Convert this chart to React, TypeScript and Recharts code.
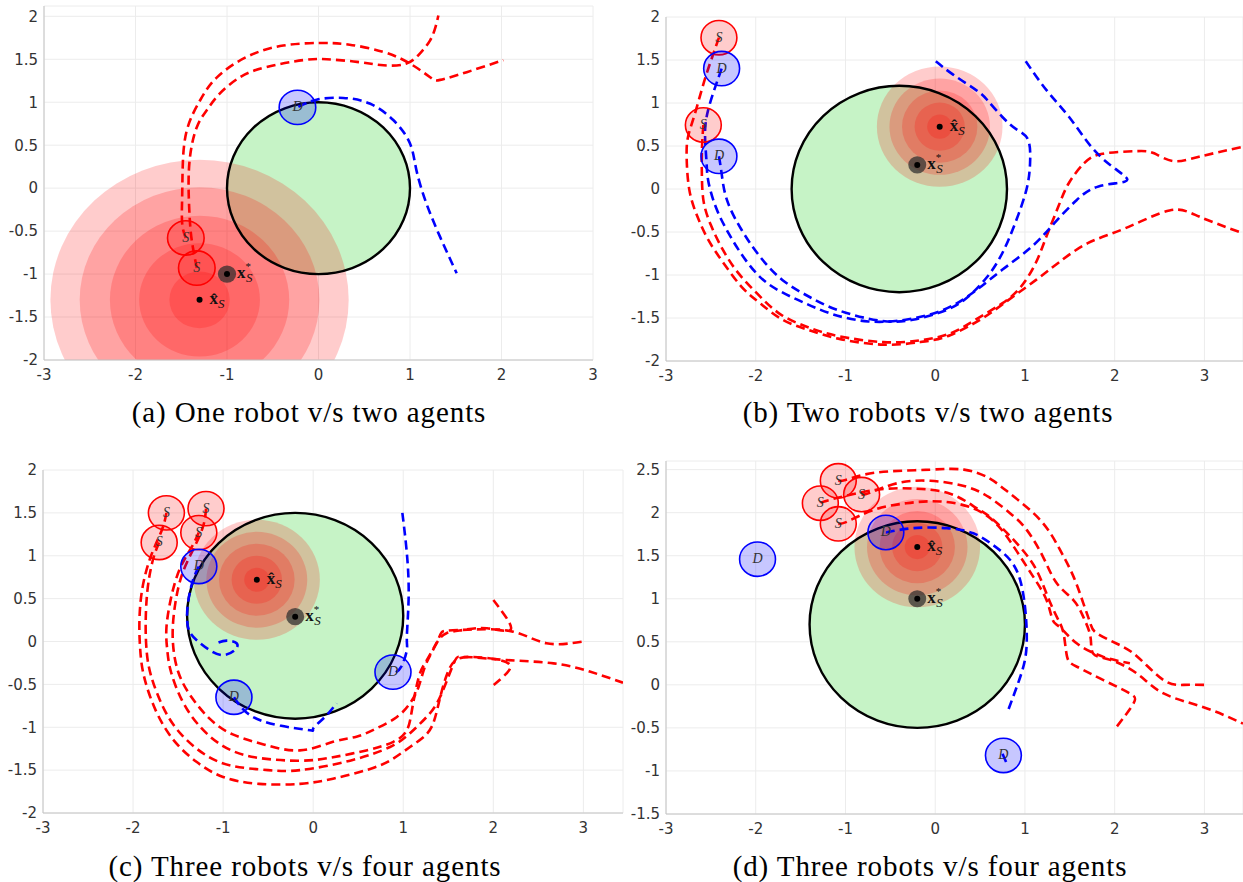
import React from 'react'
import { ComposedChart, Line, Scatter, XAxis, YAxis, CartesianGrid } from 'recharts'

type Pt = { x: number; y: number }
const pts = (a: number[][]): Pt[] => a.map(([x, y]) => ({ x, y }))

const X_TICKS = [-3, -2, -1, 0, 1, 2, 3]
const Y_TICKS = [-2, -1.5, -1, -0.5, 0, 0.5, 1, 1.5, 2]
const Y_TICKS_D = [-1.5, -1, -0.5, 0, 0.5, 1, 1.5, 2, 2.5]

// (a) one robot v/s two agents
const A_OBSTACLE = { x: 0, y: 0, r: 1 }
const A_RING = { x: -1.3, y: -1.3 }
const A_RING_RADII = [1.63, 1.31, 0.98, 0.66, 0.33]
const A_XSTAR = { x: -1.0, y: -1.0 }
const A_XHAT = { x: -1.3, y: -1.3 }
const A_ROBOTS = [[-1.45, -0.58], [-1.33, -0.93]]
const A_AGENTS = [[-0.23, 0.94]]
const A_RED = [
  [[-1.45, -0.58], [-1.49, -0.41], [-1.49, -0.1], [-1.484, 0.25], [-1.44, 0.67], [-1.295, 1.02], [-1.11, 1.29], [-0.78, 1.53], [-0.385, 1.66], [0.016, 1.69], [0.34, 1.67], [0.71, 1.585], [1.0, 1.45], [1.22, 1.29], [1.33, 1.26], [1.62, 1.35], [2.02, 1.49]],
  [[-1.33, -0.93], [-1.386, -0.6], [-1.41, -0.3], [-1.42, 0.055], [-1.4, 0.4], [-1.33, 0.71], [-1.22, 0.91], [-1.08, 1.1], [-0.86, 1.29], [-0.57, 1.41], [-0.166, 1.49], [0.09, 1.5], [0.42, 1.47], [0.71, 1.43], [0.96, 1.45], [1.11, 1.57], [1.22, 1.72], [1.28, 1.88], [1.31, 2.01]],
]
const A_BLUE = [
  [[-0.22, 0.945], [-0.02, 1.03], [0.27, 1.05], [0.56, 0.985], [0.82, 0.79], [1.0, 0.52], [1.07, 0.21], [1.18, -0.18], [1.33, -0.57], [1.51, -0.99]],
]

// (b) two robots v/s two agents
const B_OBSTACLE = { x: -0.4, y: 0, r: 1.2 }
const B_RING = { x: 0.05, y: 0.725 }
const B_RING_RADII = [0.7, 0.56, 0.42, 0.28, 0.14]
const B_XSTAR = { x: -0.2, y: 0.28 }
const B_XHAT = { x: 0.05, y: 0.725 }
const B_ROBOTS = [[-2.41, 1.76], [-2.584, 0.744]]
const B_AGENTS = [[-2.38, 1.4], [-2.41, 0.38]]
const B_RED = [
  [[-2.41, 1.76], [-2.48, 1.55], [-2.56, 1.3], [-2.63, 1.05], [-2.7, 0.8], [-2.756, 0.6], [-2.77, 0.375], [-2.74, -0.01], [-2.65, -0.32], [-2.53, -0.59], [-2.36, -0.86], [-2.155, -1.14], [-1.95, -1.33], [-1.7, -1.52], [-1.41, -1.64], [-1.08, -1.74], [-0.58, -1.81], [-0.166, -1.78], [0.166, -1.7], [0.5, -1.52], [0.66, -1.41], [0.87, -1.25], [1.12, -1.06], [1.37, -0.86], [1.7, -0.63], [2.11, -0.46], [2.61, -0.25], [2.94, -0.32], [3.43, -0.515]],
  [[-2.584, 0.744], [-2.6, 0.45], [-2.6, 0.15], [-2.58, -0.15], [-2.5, -0.42], [-2.37, -0.7], [-2.2, -0.97], [-1.98, -1.22], [-1.72, -1.46], [-1.41, -1.61], [-1.08, -1.71], [-0.58, -1.78], [-0.166, -1.76], [0.166, -1.68], [0.45, -1.52], [0.746, -1.33], [0.953, -1.14], [1.12, -0.86], [1.24, -0.55], [1.37, -0.21], [1.49, 0.07], [1.66, 0.3], [1.865, 0.41], [2.24, 0.44], [2.44, 0.415], [2.65, 0.325], [2.94, 0.375], [3.43, 0.49]],
]
const B_BLUE = [
  [[-2.38, 1.4], [-2.45, 1.19], [-2.53, 0.92], [-2.565, 0.65], [-2.55, 0.34], [-2.53, 0.1], [-2.445, -0.21], [-2.3, -0.52], [-2.11, -0.83], [-1.865, -1.1], [-1.53, -1.29], [-1.16, -1.45], [-0.746, -1.54], [-0.33, -1.52], [0.08, -1.41], [0.415, -1.21], [0.746, -0.94], [1.077, -0.67], [1.325, -0.4], [1.575, -0.13], [1.82, 0.03], [2.11, 0.085], [2.1, 0.16], [1.95, 0.28], [1.74, 0.49], [1.49, 0.84], [1.24, 1.15], [1.0, 1.5]],
  [[-2.41, 0.38], [-2.38, 0.18], [-2.32, -0.13], [-2.155, -0.48], [-1.95, -0.79], [-1.7, -1.06], [-1.41, -1.25], [-1.08, -1.41], [-0.62, -1.53], [-0.25, -1.52], [0.12, -1.41], [0.37, -1.25], [0.58, -1.02], [0.746, -0.75], [0.89, -0.4], [1.016, -0.01], [1.057, 0.3], [1.036, 0.57], [0.91, 0.69], [0.746, 0.84], [0.58, 1.035], [0.456, 1.15], [0.2, 1.33], [0.0, 1.49]],
]

// (c) three robots v/s four agents
const C_OBSTACLE = { x: -0.2, y: 0.3, r: 1.2 }
const C_RING = { x: -0.626, y: 0.72 }
const C_RING_RADII = [0.7, 0.56, 0.42, 0.28, 0.14]
const C_XSTAR = { x: -0.2, y: 0.29 }
const C_XHAT = { x: -0.626, y: 0.72 }
const C_ROBOTS = [[-1.63, 1.5], [-1.19, 1.55], [-1.71, 1.155], [-1.27, 1.27]]
const C_AGENTS = [[-1.27, 0.875], [-0.88, -0.65], [0.886, -0.357]]
const C_RED = [
  [[-1.19, 1.55], [-1.22, 1.35], [-1.32, 1.1], [-1.45, 0.8], [-1.53, 0.45], [-1.56, 0.05], [-1.5, -0.35], [-1.35, -0.65], [-1.15, -0.9], [-0.9, -1.08], [-0.55, -1.2], [-0.147, -1.27], [0.22, -1.17], [0.48, -1.11], [0.7, -1.015], [0.93, -0.88], [1.075, -0.72], [1.17, -0.53], [1.24, -0.295], [1.33, -0.1], [1.41, 0.076], [1.48, 0.126], [1.78, 0.14], [2.22, 0.115], [2.59, -0.02], [3.0, 0.0]],
  [[-1.27, 1.27], [-1.35, 1.1], [-1.48, 0.85], [-1.58, 0.5], [-1.63, 0.15], [-1.62, -0.1], [-1.58, -0.35], [-1.45, -0.7], [-1.25, -1.0], [-1.0, -1.22], [-0.65, -1.35], [-0.147, -1.39], [0.22, -1.35], [0.59, -1.27], [0.89, -1.17], [1.04, -1.035], [1.09, -0.84], [1.13, -0.61], [1.186, -0.37], [1.26, -0.22], [1.37, -0.02], [1.48, 0.096], [1.67, 0.135], [1.93, 0.154], [2.19, 0.135], [2.11, 0.33], [2.0, 0.485]],
  [[-1.71, 1.155], [-1.78, 0.95], [-1.84, 0.6], [-1.86, 0.2], [-1.85, -0.1], [-1.8, -0.4], [-1.65, -0.8], [-1.45, -1.1], [-1.2, -1.32], [-0.9, -1.45], [-0.5, -1.5], [-0.147, -1.5], [0.41, -1.39], [0.853, -1.23], [1.075, -1.07], [1.26, -0.88], [1.41, -0.645], [1.56, -0.255], [1.63, -0.18], [1.78, -0.185], [2.15, -0.216], [2.67, -0.255], [3.07, -0.35], [3.44, -0.48]],
  [[-1.63, 1.5], [-1.68, 1.3], [-1.8, 1.0], [-1.9, 0.6], [-1.93, 0.2], [-1.92, -0.1], [-1.88, -0.4], [-1.75, -0.8], [-1.55, -1.15], [-1.3, -1.4], [-1.0, -1.58], [-0.6, -1.66], [-0.147, -1.66], [0.22, -1.6], [0.59, -1.5], [0.85, -1.39], [1.075, -1.23], [1.26, -1.08], [1.35, -0.9], [1.41, -0.65], [1.48, -0.4], [1.58, -0.22], [1.78, -0.18], [2.07, -0.216], [2.19, -0.295], [2.11, -0.41], [2.0, -0.51]],
]
const C_BLUE = [
  [[-1.27, 0.875], [-1.333, 0.72], [-1.39, 0.45], [-1.39, 0.17], [-1.296, 0.018], [-1.15, -0.1], [-1.0, -0.158], [-0.87, -0.1], [-0.85, -0.02], [-0.96, 0.01], [-1.07, -0.02]],
  [[0.99, 1.5], [1.04, 1.03], [1.06, 0.52], [1.04, 0.056], [1.04, -0.1], [0.98, -0.29], [0.9, -0.37]],
  [[-0.88, -0.65], [-0.7, -0.86], [-0.37, -0.98], [-0.035, -1.035], [0.0, -1.015], [0.13, -0.88], [0.26, -0.72]],
]

// (d) three robots v/s four agents
const D_OBSTACLE = { x: -0.2, y: 0.7, r: 1.2 }
const D_RING = { x: -0.2, y: 1.6 }
const D_RING_RADII = [0.7, 0.56, 0.42, 0.28, 0.14]
const D_XSTAR = { x: -0.2, y: 1.0 }
const D_XHAT = { x: -0.2, y: 1.6 }
const D_ROBOTS = [[-1.08, 2.37], [-0.82, 2.21], [-1.28, 2.11], [-1.08, 1.87]]
const D_AGENTS = [[-0.55, 1.77], [-1.98, 1.46], [0.76, -0.82]]
const D_RED = [
  [[-1.08, 2.37], [-1.0, 2.38], [-0.8, 2.44], [-0.5, 2.48], [-0.056, 2.5], [0.32, 2.5], [0.6, 2.4], [0.835, 2.22], [1.17, 1.915], [1.39, 1.57], [1.54, 1.26], [1.65, 0.95], [1.73, 0.71], [1.8, 0.6], [2.02, 0.48], [2.25, 0.33], [2.545, 0.055], [2.77, 0.0], [3.01, 0.0]],
  [[-0.82, 2.21], [-0.73, 2.23], [-0.43, 2.34], [-0.056, 2.37], [0.32, 2.31], [0.6, 2.18], [0.85, 1.98], [1.02, 1.8], [1.2, 1.49], [1.355, 1.18], [1.54, 0.985], [1.65, 0.79], [1.73, 0.56], [1.76, 0.365], [1.95, 0.29], [2.25, 0.13], [2.545, -0.1], [2.99, -0.26], [3.43, -0.45]],
  [[-1.28, 2.11], [-1.17, 2.15], [-0.69, 2.26], [-0.24, 2.28], [0.166, 2.22], [0.45, 2.06], [0.65, 1.915], [0.946, 1.6], [1.13, 1.33], [1.24, 1.06], [1.355, 0.79], [1.43, 0.6], [1.47, 0.325], [1.58, 0.21], [1.875, 0.055], [2.17, -0.1], [2.21, -0.216], [2.02, -0.49]],
  [[-1.08, 1.87], [-0.97, 1.9], [-0.69, 2.03], [-0.32, 2.11], [0.055, 2.13], [0.425, 2.05], [0.7, 1.85], [0.91, 1.55], [1.09, 1.26], [1.24, 0.985], [1.31, 0.75], [1.39, 0.67], [1.58, 0.48], [1.875, 0.325], [2.17, 0.25]],
]
const D_BLUE = [
  [[-0.55, 1.77], [-0.5, 1.78], [-0.243, 1.82], [0.13, 1.82], [0.425, 1.76], [0.65, 1.62], [0.835, 1.45], [0.946, 1.22], [1.0, 0.91], [1.02, 0.6], [1.0, 0.29], [0.91, -0.02], [0.815, -0.29]],
  [[0.75, -0.8], [0.8, -0.92]],
]

const RED = '#ff0000'
const BLUE = '#0000ff'
const GREEN_FILL = '#c6f3c6'
const RING_FILL = 'rgba(255,0,0,0.2)'
const ROBOT_FILL = 'rgba(255,0,0,0.2)'
const AGENT_FILL = 'rgba(0,0,255,0.22)'
const BODY_R = 0.2

const YW = 44
const MT = 12
const MR = 10
const XH = 32

interface PanelCfg {
  left: number; top: number; plotW: number; plotH: number
  xDomain: [number, number]; yDomain: [number, number]; yTicks: number[]
  obstacle: { x: number; y: number; r: number }
  ring: Pt; ringRadii: number[]; xstar: Pt; xhat: Pt
  robots: number[][]; agents: number[][]; red: number[][][]; blue: number[][][]
  caption: string; capX: number; capY: number
}

const PANELS: PanelCfg[] = [
  { left: 44, top: 6, plotW: 549, plotH: 354, xDomain: [-3, 3], yDomain: [-2, 2.12], yTicks: Y_TICKS,
    obstacle: A_OBSTACLE, ring: A_RING, ringRadii: A_RING_RADII, xstar: A_XSTAR, xhat: A_XHAT,
    robots: A_ROBOTS, agents: A_AGENTS, red: A_RED, blue: A_BLUE,
    caption: '(a) One robot v/s two agents', capX: 309, capY: 412 },
  { left: 666, top: 17, plotW: 577, plotH: 344, xDomain: [-3, 3.43], yDomain: [-2, 2], yTicks: Y_TICKS,
    obstacle: B_OBSTACLE, ring: B_RING, ringRadii: B_RING_RADII, xstar: B_XSTAR, xhat: B_XHAT,
    robots: B_ROBOTS, agents: B_AGENTS, red: B_RED, blue: B_BLUE,
    caption: '(b) Two robots v/s two agents', capX: 928, capY: 412 },
  { left: 43, top: 470, plotW: 580, plotH: 343, xDomain: [-3, 3.44], yDomain: [-2, 2], yTicks: Y_TICKS,
    obstacle: C_OBSTACLE, ring: C_RING, ringRadii: C_RING_RADII, xstar: C_XSTAR, xhat: C_XHAT,
    robots: C_ROBOTS, agents: C_AGENTS, red: C_RED, blue: C_BLUE,
    caption: '(c) Three robots v/s four agents', capX: 305, capY: 866 },
  { left: 666, top: 461, plotW: 577, plotH: 353, xDomain: [-3, 3.43], yDomain: [-1.5, 2.6], yTicks: Y_TICKS_D,
    obstacle: D_OBSTACLE, ring: D_RING, ringRadii: D_RING_RADII, xstar: D_XSTAR, xhat: D_XHAT,
    robots: D_ROBOTS, agents: D_AGENTS, red: D_RED, blue: D_BLUE,
    caption: '(d) Three robots v/s four agents', capX: 930, capY: 866 },
]

const tickStyle = { fontFamily: 'DejaVu Sans', fontSize: 15, fill: '#333' }

function Panel({ p }: { p: PanelCfg }) {
  // pixels per data unit, so that radii given in data units come out right
  const kx = p.plotW / (p.xDomain[1] - p.xDomain[0])
  const ky = p.plotH / (p.yDomain[1] - p.yDomain[0])

  const disk = (r: number, fill: string, stroke = 'none', sw = 0, label?: string) => (s: any) => (
    <g>
      <ellipse cx={s.cx} cy={s.cy} rx={r * kx} ry={r * ky} fill={fill} stroke={stroke} strokeWidth={sw} />
      {label && (
        <text x={s.cx} y={s.cy + 4} textAnchor="middle" fontFamily="Liberation Serif" fontStyle="italic" fontSize={14} fill="#333">
          {label}
        </text>
      )}
    </g>
  )

  const starShape = (s: any) => (
    <g>
      <ellipse cx={s.cx} cy={s.cy} rx={0.1 * kx} ry={0.1 * ky} fill="rgba(45,45,45,0.72)" />
      <circle cx={s.cx} cy={s.cy} r={3} fill="#000" />
      <text x={s.cx + 10} y={s.cy + 4} fontFamily="Liberation Serif" fontSize={17} fill="#111">
        <tspan fontWeight="bold">x</tspan>
        <tspan fontSize={11} dy={-8}>*</tspan>
        <tspan fontSize={13} fontStyle="italic" dx={-5} dy={12}>S</tspan>
      </text>
    </g>
  )

  const hatShape = (s: any) => (
    <g>
      <circle cx={s.cx} cy={s.cy} r={3} fill="#000" />
      <text x={s.cx + 10} y={s.cy + 4} fontFamily="Liberation Serif" fontSize={17} fill="#111">
        <tspan fontWeight="bold">{'x\u0302'}</tspan>
        <tspan fontSize={13} fontStyle="italic" dy={4}>S</tspan>
      </text>
    </g>
  )

  const trail = (color: string, key: string) => (d: number[][], i: number) => (
    <Line key={key + i} data={pts(d)} dataKey="y" type="natural" stroke={color} strokeWidth={2.6}
      strokeDasharray="9 5" dot={false} activeDot={false} isAnimationActive={false} zIndex={400} />
  )

  return (
    <div style={{ position: 'absolute', left: p.left - YW, top: p.top - MT }}>
      <ComposedChart
        width={YW + p.plotW + MR}
        height={MT + p.plotH + XH}
        margin={{ top: MT, right: MR, bottom: 0, left: 0 }}
      >
        <CartesianGrid stroke="#ececec" />
        <XAxis
          type="number" dataKey="x" domain={p.xDomain} ticks={X_TICKS} allowDataOverflow interval={0}
          height={XH} tickLine={false} tickSize={3} tickMargin={6}
          axisLine={{ stroke: '#c4c4c4' }} tick={tickStyle}
        />
        <YAxis
          type="number" dataKey="y" domain={p.yDomain} ticks={p.yTicks} allowDataOverflow interval={0}
          width={YW} tickLine={false} tickSize={2} tickMargin={4}
          axisLine={{ stroke: '#c4c4c4' }} tick={tickStyle}
        />
        <Scatter data={[p.obstacle]} shape={disk(p.obstacle.r, GREEN_FILL)} isAnimationActive={false} zIndex={100} />
        {p.ringRadii.map((r, i) => (
          <Scatter key={'ring' + i} data={[p.ring]} shape={disk(r, RING_FILL)} isAnimationActive={false} zIndex={150} />
        ))}
        <Scatter data={[p.obstacle]} shape={disk(p.obstacle.r, 'none', '#000', 2.4)} isAnimationActive={false} zIndex={200} />
        {p.red.map(trail(RED, 'red'))}
        {p.blue.map(trail(BLUE, 'blue'))}
        <Scatter data={pts(p.robots)} shape={disk(BODY_R, ROBOT_FILL, RED, 1.6, 'S')} isAnimationActive={false} zIndex={600} />
        <Scatter data={pts(p.agents)} shape={disk(BODY_R, AGENT_FILL, BLUE, 1.6, 'D')} isAnimationActive={false} zIndex={600} />
        <Scatter data={[p.xstar]} shape={starShape} isAnimationActive={false} zIndex={650} />
        <Scatter data={[p.xhat]} shape={hatShape} isAnimationActive={false} zIndex={650} />
      </ComposedChart>
    </div>
  )
}

export default function App() {
  return (
    <div style={{ position: 'absolute', left: 0, top: 0, width: 1243, height: 882, overflow: 'hidden', background: '#fff' }}>
      {PANELS.map((p, i) => (
        <React.Fragment key={i}>
          <Panel p={p} />
          <div
            style={{
              position: 'absolute', left: p.capX - 250, width: 500, top: p.capY - 17, height: 34,
              lineHeight: '34px', textAlign: 'center', fontFamily: 'Liberation Serif', fontSize: 29,
              letterSpacing: 0.9, color: '#000',
            }}
          >
            {p.caption}
          </div>
        </React.Fragment>
      ))}
    </div>
  )
}
